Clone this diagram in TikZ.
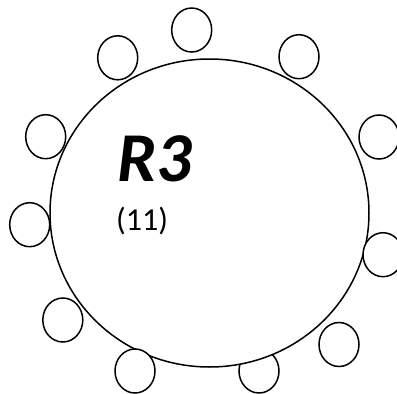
\documentclass[tikz,border=0pt]{standalone}
\usepackage{fontspec}
\setmainfont{Carlito}
\usetikzlibrary{shapes.geometric}
\begin{document}
\begin{tikzpicture}[x=1pt,y=-1pt,
  seat/.style={draw,fill=white,line width=1.5pt,ellipse,minimum width=40pt,minimum height=44pt,inner sep=0pt},
  tbl/.style={draw,fill=white,line width=1.5pt,ellipse,minimum width=319pt,minimum height=308pt,inner sep=0pt}]
\useasboundingbox (0,0) rectangle (397,394);
\node[seat] (s11) at (259,371) {};
\node[tbl] (table) at (209.5,213) {};
\foreach \n/\x/\y in {s1/191.7/30, s2/117.7/57.8, s3/299/56.7, s4/45.7/136.7, s5/379/137,
  s6/29.7/224.7, s7/383/254.7, s8/62.8/320, s9/339/344.5, s10/135/371}
  \node[seat] (\n) at (\x,\y) {};
\node[anchor=base west,inner sep=0pt,font=\fontsize{70}{70}\selectfont\bfseries\itshape] (name) at (117,181.7) {R3};
\node[anchor=base west,inner sep=0pt,font=\fontsize{32}{32}\selectfont] (count) at (116,230) {(11)};
\end{tikzpicture}
\end{document}
